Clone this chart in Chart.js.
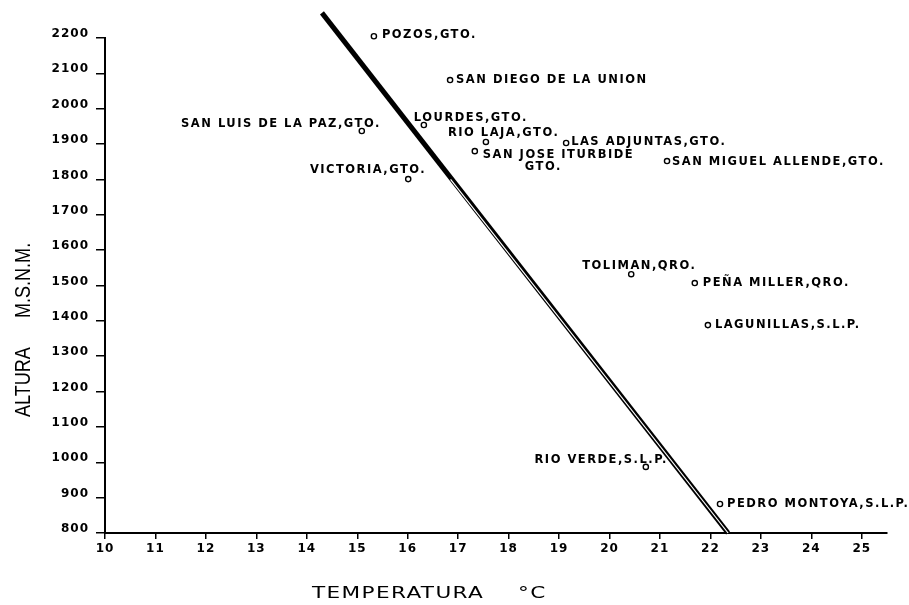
<!DOCTYPE html>
<html>
<head>
<meta charset="utf-8">
<script src="https://cdn.jsdelivr.net/npm/chart.js@4.4.0/dist/chart.umd.min.js"></script>
<style>
  html, body { margin: 0; padding: 0; background: #fff; }
</style>
</head>
<body>
<canvas id="myChart" width="909" height="605"></canvas>
<script>
// station names, temperature (°C) and altitude (m.s.n.m.)
const stations = [
  'POZOS,GTO.', 'SAN DIEGO DE LA UNION', 'LOURDES,GTO.', 'SAN LUIS DE LA PAZ,GTO.',
  'RIO LAJA,GTO.', 'LAS ADJUNTAS,GTO.', 'SAN JOSE ITURBIDE\nGTO.', 'SAN MIGUEL ALLENDE,GTO.',
  'VICTORIA,GTO.', 'TOLIMAN,QRO.', 'PEÑA MILLER,QRO.', 'LAGUNILLAS,S.L.P.',
  'RIO VERDE,S.L.P.', 'PEDRO MONTOYA,S.L.P.'
];
const temps     = [15.33, 16.84, 16.32, 15.09, 17.55, 19.14, 17.33, 21.14, 16.01, 20.43, 21.69, 21.95, 20.72, 22.19];
const altitudes = [2205, 2081, 1954, 1937, 1906, 1903, 1880, 1852, 1801, 1532, 1507, 1388, 987, 882];

// the drawn gradient line (ends)
const lineTemps = [14.30, 22.35];
const lineAlts  = [2271, 800];
// white inner stroke of the double line on its lower part
const innerTemps = [16.85, 22.35];
const innerAlts  = [1800, 800];

const xTicks = [10, 11, 12, 13, 14, 15, 16, 17, 18, 19, 20, 21, 22, 23, 24, 25];
const yTicks = [800, 900, 1000, 1100, 1200, 1300, 1400, 1500, 1600, 1700, 1800, 1900, 2000, 2100, 2200];

// where each name sits relative to its dot: [dx, dy, align]
const labelPos = [
  [8, -1, 'left'], [6, 0, 'left'], [-10, -7, 'left'], [19, -7, 'right'],
  [-38, -9, 'left'], [5, -1, 'left'], [8, 4, 'left'], [5, 1, 'left'],
  [18, -9, 'right'], [-49, -8, 'left'], [8, 0, 'left'], [7, 0, 'left'],
  [22, -7, 'right'], [7, 0, 'left']
];

const toPoints = (xs, ys) => xs.map((x, i) => ({ x: x, y: ys[i] }));

const tickFont = { family: 'DejaVu Sans', size: 12, weight: 'bold' };

// draws station names and the two axis titles
const labelsPlugin = {
  id: 'labels',
  beforeDraw(chart) {
    chart.ctx.letterSpacing = '1px';
  },
  afterDatasetsDraw(chart) {
    const ctx = chart.ctx;
    const meta = chart.getDatasetMeta(0);
    ctx.save();
    ctx.fillStyle = '#000';
    ctx.font = 'bold 11.5px "DejaVu Sans"';
    ctx.letterSpacing = '1.5px';
    ctx.textBaseline = 'middle';
    meta.data.forEach((pt, i) => {
      const [dx, dy, align] = labelPos[i];
      const lines = stations[i].split('\n');
      ctx.textAlign = align;
      ctx.fillText(lines[0], pt.x + dx, pt.y + dy);
      if (lines[1]) {
        ctx.textAlign = 'left';
        ctx.fillText(lines[1], pt.x + dx + 42, pt.y + dy + 12);
      }
    });
    ctx.restore();

    // x title
    ctx.save();
    ctx.fillStyle = '#000';
    ctx.font = '16px "DejaVu Sans"';
    ctx.letterSpacing = '1px';
    ctx.textBaseline = 'middle';
    ctx.textAlign = 'left';
    ctx.translate(312, 594);
    ctx.scale(1.35, 1);
    ctx.fillText('TEMPERATURA', 0, 0);
    ctx.fillText('°C', (518 - 312) / 1.35, 0);
    ctx.restore();

    // y title
    ctx.save();
    ctx.fillStyle = '#000';
    ctx.font = '22px "Liberation Sans"';
    ctx.letterSpacing = '0px';
    ctx.textBaseline = 'middle';
    ctx.textAlign = 'left';
    ctx.translate(24, 417);
    ctx.rotate(-Math.PI / 2);
    ctx.scale(0.82, 1);
    ctx.fillText('ALTURA', 0, 0);
    ctx.fillText('M.S.N.M.', (417 - 318) / 0.82, 0);
    ctx.restore();
  }
};

const config = {
  type: 'scatter',
  data: {
    datasets: [
      {
        label: 'Estaciones',
        data: toPoints(temps, altitudes),
        pointRadius: 2.6,
        pointBorderWidth: 1.4,
        pointBorderColor: '#000',
        pointBackgroundColor: '#fff',
        showLine: false,
        clip: false
      },
      {
        label: 'inner',
        data: toPoints(innerTemps, innerAlts),
        showLine: true,
        borderColor: '#fff',
        borderWidth: 1.2,
        pointRadius: 0,
        clip: false
      },
      {
        label: 'Recta',
        data: toPoints(lineTemps, lineAlts),
        showLine: true,
        borderColor: '#000',
        borderWidth: 5,
        pointRadius: 0,
        clip: false
      }
    ]
  },
  options: {
    responsive: false,
    animation: false,
    layout: { padding: { top: 38, right: 22, left: 0, bottom: 0 } },
    plugins: {
      legend: { display: false },
      tooltip: { enabled: false }
    },
    scales: {
      x: {
        type: 'linear',
        min: 10,
        max: 25.5,
        afterBuildTicks: scale => { scale.ticks = xTicks.map(v => ({ value: v })); },
        afterFit: scale => { scale.height = 72; },
        grid: { drawOnChartArea: false, drawTicks: true, tickLength: 6, color: '#000', lineWidth: 1.5 },
        border: { color: '#000', width: 2 },
        ticks: { color: '#000', font: tickFont, padding: 3, maxRotation: 0, callback: v => String(v) }
      },
      y: {
        type: 'linear',
        min: 800,
        max: 2200,
        afterBuildTicks: scale => { scale.ticks = yTicks.map(v => ({ value: v })); },
        afterFit: scale => { scale.width = 105; },
        grid: { drawOnChartArea: false, drawTicks: true, tickLength: 9, color: '#000', lineWidth: 1.5 },
        border: { color: '#000', width: 2 },
        ticks: { color: '#000', font: tickFont, padding: 7, labelOffset: -4, callback: v => String(v) }
      }
    }
  },
  plugins: [labelsPlugin]
};

const myChart = new Chart(document.getElementById('myChart'), config);
</script>
</body>
</html>
